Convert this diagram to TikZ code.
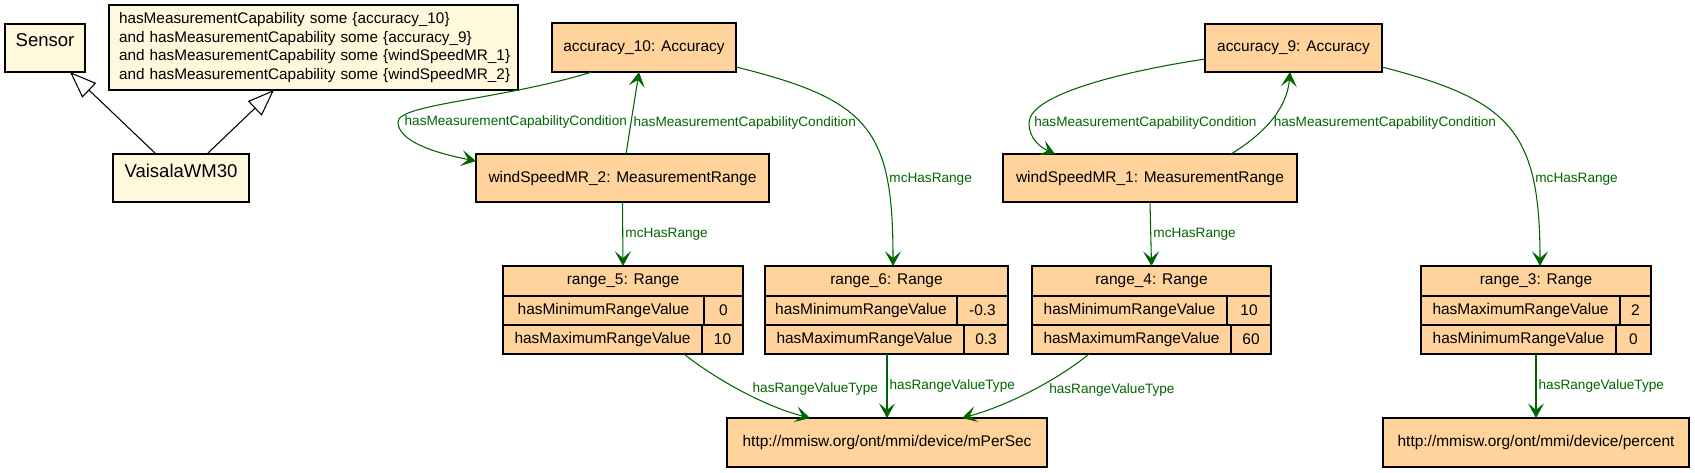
\documentclass[tikz,border=0pt]{standalone}
\usepackage{fontspec}
\setmainfont{Liberation Sans}
\usetikzlibrary{arrows.meta,calc}

\begin{document}
\begin{tikzpicture}[x=0.75pt,y=0.75pt,yscale=-1,xscale=1,
  every node/.style={inner sep=0pt,outer sep=0pt},
  cls/.style={draw,line width=0.9pt,fill={rgb, 255:red, 255; green, 248; blue, 220 },font=\fontsize{13.9}{16}\selectfont,anchor=north west},
  inst/.style={draw,line width=0.9pt,fill={rgb, 255:red, 255; green, 211; blue, 155 },font=\fontsize{11.6}{14}\selectfont,anchor=north west,minimum height=36.5pt},
  cell/.style={inst,minimum height=21.75pt},
  rel/.style={color={rgb, 255:red, 0; green, 100; blue, 0 },line width=0.8pt,-{Stealth[length=11pt,width=12pt,inset=5pt]}},
  lbl/.style={text={rgb, 255:red, 0; green, 100; blue, 0 },font=\fontsize{10.2}{12}\selectfont,inner sep=2pt},
  isa/.style={line width=0.8pt,-{Triangle[open,length=20pt,width=15pt]}}
]
\useasboundingbox (0,0) rectangle (1695,472);

%Shape: Rectangle
\node [cls,minimum width=60pt,text height=16.5pt,text depth=19.5pt] (sensor) at (5,24) {Sensor};
%Shape: Rectangle
\node [cls,font=\fontsize{11.5}{14}\selectfont,text width=291.75pt,inner xsep=7.5pt,minimum height=63.75pt,align=left] (cond) at (109,5) {\mbox{hasMeasurementCapability some \{accuracy\_10\}}\\\mbox{and hasMeasurementCapability some \{accuracy\_9\}}\\\mbox{and hasMeasurementCapability some \{windSpeedMR\_1\}}\\\mbox{and hasMeasurementCapability some \{windSpeedMR\_2\}}};
%Shape: Rectangle
\node [cls,minimum width=102pt,text height=17.25pt,text depth=18.75pt] (vai) at (113,154) {VaisalaWM30};

%Shape: Rectangle
\node [inst,minimum width=138pt,minimum height=36.75pt] (acc10) at (552,23) {accuracy\_10: Accuracy};
\node [inst,minimum width=219.75pt,minimum height=36pt] (ws2) at (476,154) {windSpeedMR\_2: MeasurementRange};
\node [inst,minimum width=132.75pt,minimum height=36pt] (acc9) at (1205,24) {accuracy\_9: Accuracy};
\node [inst,minimum width=220.5pt,minimum height=36pt] (ws1) at (1003,154) {windSpeedMR\_1: MeasurementRange};
\node [inst,minimum width=240pt,minimum height=36.75pt] (mps) at (727,418) {http://mmisw.org/ont/mmi/device/mPerSec};
\node [inst,minimum width=229.5pt,minimum height=36.75pt] (pct) at (1383,418) {http://mmisw.org/ont/mmi/device/percent};

%Shape: Table range_5
\node [cell,minimum width=180pt,minimum height=22.5pt] (r5) at (503,266) {range\_5: Range};
\node [cell,minimum width=150.75pt] (r5min) at (503,296) {hasMinimumRangeValue};
\node [cell,minimum width=29.25pt] (r5minv) at (704,296) {0};
\node [cell,minimum width=149.25pt] (r5max) at (503,325) {hasMaximumRangeValue};
\node [cell,minimum width=30.75pt] (r5maxv) at (702,325) {10};
%Shape: Table range_6
\node [cell,minimum width=182.25pt,minimum height=22.5pt] (r6) at (765,266) {range\_6: Range};
\node [cell,minimum width=144pt] (r6min) at (765,296) {hasMinimumRangeValue};
\node [cell,minimum width=38.25pt] (r6minv) at (957,296) {-0.3};
\node [cell,minimum width=149.25pt] (r6max) at (765,325) {hasMaximumRangeValue};
\node [cell,minimum width=33pt] (r6maxv) at (964,325) {0.3};
%Shape: Table range_4
\node [cell,minimum width=179.25pt,minimum height=22.5pt] (r4) at (1032,266) {range\_4: Range};
\node [cell,minimum width=146.25pt] (r4min) at (1032,296) {hasMinimumRangeValue};
\node [cell,minimum width=33pt] (r4minv) at (1227,296) {10};
\node [cell,minimum width=149.25pt] (r4max) at (1032,325) {hasMaximumRangeValue};
\node [cell,minimum width=30pt] (r4maxv) at (1231,325) {60};
%Shape: Table range_3
\node [cell,minimum width=172.5pt,minimum height=22.5pt] (r3) at (1421,266) {range\_3: Range};
\node [cell,minimum width=149.25pt] (r3max) at (1421,296) {hasMaximumRangeValue};
\node [cell,minimum width=23.25pt] (r3maxv) at (1620,296) {2};
\node [cell,minimum width=146.25pt] (r3min) at (1421,325) {hasMinimumRangeValue};
\node [cell,minimum width=26.25pt] (r3minv) at (1616,325) {0};

%Straight Lines
\draw [isa] ($(vai.north)+(-25,0)$) -- ($(sensor.south)+(25,0)$);
\draw [isa] ($(vai.north)+(26,0)$) -- ($(cond.south)+(-39.5,0)$);

%Curve Lines
\draw [rel] ($(acc10.south)+(-52,0)$) .. controls (500,100) and (398,104) .. (398,122) node [lbl,anchor=west,xshift=3pt] {hasMeasurementCapabilityCondition} .. controls (398,140) and (430,152) .. ($(ws2.west)+(0,-17)$);
%Straight Lines
\draw [rel] ($(ws2.north)+(3.5,0)$) -- ($(acc10.south)+(-5,0)$) node [lbl,pos=0.38,anchor=west] {hasMeasurementCapabilityCondition};
%Curve Lines
\draw [rel] ($(acc10.east)+(0,19.5)$) .. controls (870,100) and (893,130) .. ($(r6.north)+(6.5,0)$) node [lbl,pos=0.74,anchor=west] {mcHasRange};
%Straight Lines
\draw [rel] (ws2.south) -- (r5.north) node [lbl,pos=0.5,anchor=west] {mcHasRange};

%Curve Lines
\draw [rel] ($(acc9.west)+(0,11)$) .. controls (1120,72) and (1029,95) .. (1029,123) node [lbl,anchor=west,xshift=2pt] {hasMeasurementCapabilityCondition} .. controls (1029,140) and (1042,148) .. ($(ws1.north west)+(52,0)$);
\draw [rel] ($(ws1.north)+(81,0)$) .. controls (1262,135) and (1287,110) .. ($(acc9.south)+(-3.5,0)$) node [lbl,pos=0.46,anchor=west,xshift=2pt] {hasMeasurementCapabilityCondition};
\draw [rel] ($(acc9.east)+(0,19)$) .. controls (1510,100) and (1540,130) .. ($(r3.north)+(4,0)$) node [lbl,pos=0.74,anchor=west] {mcHasRange};
%Straight Lines
\draw [rel] (ws1.south) -- (r4.north) node [lbl,pos=0.5,anchor=west] {mcHasRange};

%Curve Lines
\draw [rel] ($(r5max.south)+(81.5,0)$) .. controls (710,375) and (760,405) .. ($(mps.north west)+(83,0)$) node [lbl,pos=0.5,anchor=west,xshift=9pt] {hasRangeValueType};
%Straight Lines
\draw [rel] (r6max.south -| mps.north) -- (mps.north) node [lbl,pos=0.5,anchor=west] {hasRangeValueType};
%Curve Lines
\draw [rel] ($(r4max.south)+(-42.5,0)$) .. controls (1060,378) and (1010,405) .. ($(mps.north east)+(-85,0)$) node [lbl,pos=0.5,anchor=west,xshift=10.5pt] {hasRangeValueType};
%Straight Lines
\draw [rel] (r3min.south -| pct.north) -- (pct.north) node [lbl,pos=0.5,anchor=west] {hasRangeValueType};
\end{tikzpicture}
\end{document}
